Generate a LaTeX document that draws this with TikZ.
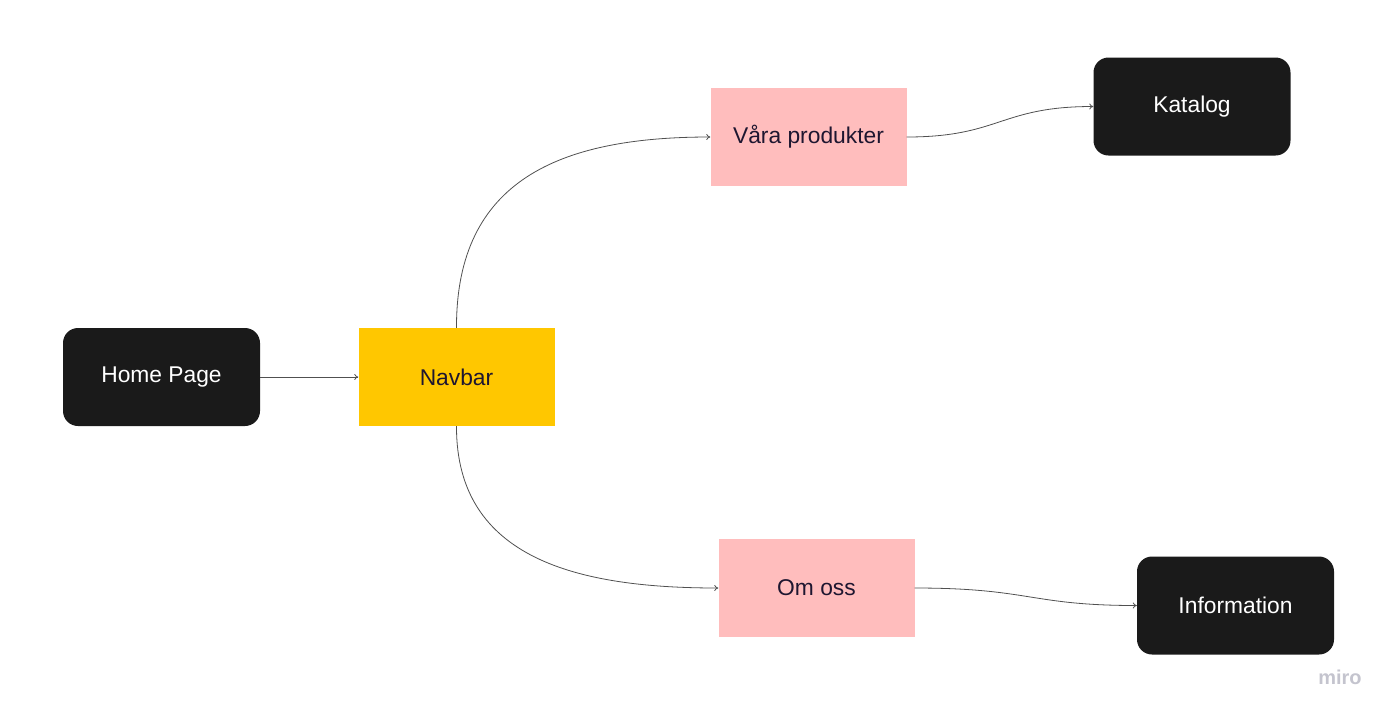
\documentclass[tikz,border=0pt]{standalone}
\usepackage{fontspec}
\setmainfont{Liberation Sans}
\usetikzlibrary{arrows.meta}
\definecolor{boxblack}{HTML}{1A1A1A}
\definecolor{navyel}{HTML}{FFC700}
\definecolor{pinkbox}{HTML}{FFBDBD}
\definecolor{darktxt}{HTML}{1E1630}
\definecolor{linegray}{HTML}{505050}
\definecolor{mirogray}{HTML}{C4C4CE}
\tikzset{
  darkbox/.style={fill=boxblack, rounded corners=15pt, minimum width=197pt, minimum height=98pt, text=white, font=\fontsize{22.8}{26}\selectfont, inner sep=0pt},
  flatbox/.style={minimum width=196pt, minimum height=98pt, text=darktxt, font=\fontsize{22.8}{26}\selectfont, inner sep=0pt},
  conn/.style={draw=linegray, line width=0.8pt, -{To[length=4pt,width=6pt]}}
}
\begin{document}
\begin{tikzpicture}[x=1pt,y=-1pt]
\useasboundingbox (0,0) rectangle (1396,716);
\node[darkbox] (home) at (161.5,377) {Home Page};
\node[flatbox, fill=navyel] (nav) at (456.5,377) {Navbar};
\node[flatbox, fill=pinkbox] (vara) at (808.5,137) {Våra produkter};
\node[darkbox] (kat) at (1192,106.5) {Katalog};
\node[flatbox, fill=pinkbox] (om) at (816.5,588) {Om oss};
\node[darkbox] (info) at (1235.5,605.5) {Information};
\node[text=mirogray, font=\fontsize{20}{22}\bfseries] (miro) at (1340,677) {miro};
\draw[conn] (home.east) -- (nav.west);
\draw[conn] (nav.north) .. controls (456,180) and (560,137) .. (vara.west);
\draw[conn] (nav.south) .. controls (456,560) and (580,588) .. (om.west);
\draw[conn] (vara.east) .. controls (1000,137) and (1000,106.5) .. (kat.west);
\draw[conn] (om.east) .. controls (1030,588) and (1030,605.5) .. (info.west);
\end{tikzpicture}
\end{document}
